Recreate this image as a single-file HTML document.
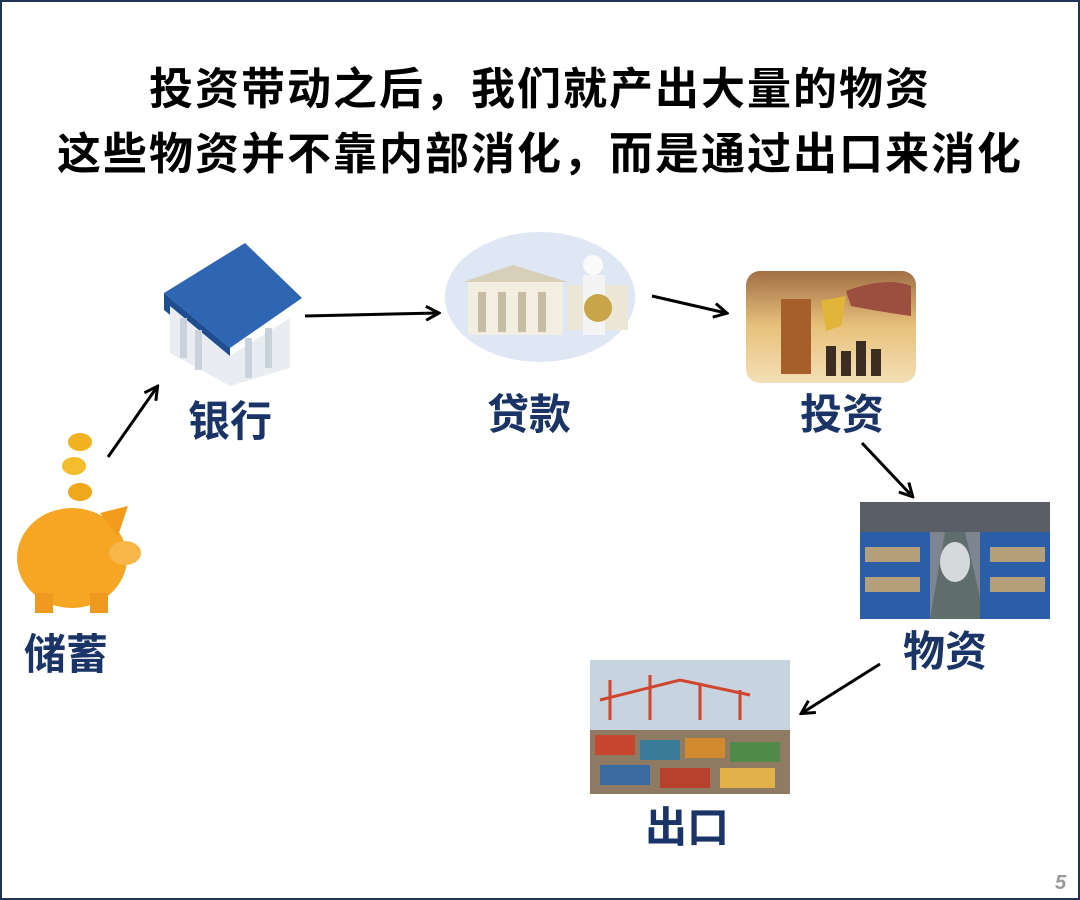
<!DOCTYPE html>
<html><head><meta charset="utf-8"><style>
html,body{margin:0;padding:0;}
body{width:1080px;height:900px;position:relative;background:#fff;overflow:hidden;font-family:"Liberation Sans","Noto Sans CJK SC",sans-serif;}
.frame{position:absolute;left:0;top:0;width:1076px;height:896px;border:2px solid #1f3557;}
.t{position:absolute;left:0;width:1080px;text-align:center;font-weight:bold;font-size:44px;color:#000;letter-spacing:2px;line-height:50px;}
.l{position:absolute;font-weight:bold;font-size:42px;color:#1a3468;line-height:44px;}
.img{position:absolute;}
</style></head><body>
<div class="frame"></div>
<div class="t" style="top:65px;">投资带动之后，我们就产出大量的物资</div>
<div class="t" style="top:130px;">这些物资并不靠内部消化，而是通过出口来消化</div>

<svg class="img" style="left:10px;top:428px" width="140" height="192">
<ellipse cx="70" cy="14" rx="12" ry="9" fill="#f2b11f"/>
<ellipse cx="64" cy="38" rx="12" ry="9" fill="#f4bd2e"/>
<ellipse cx="70" cy="64" rx="12" ry="9" fill="#f0a81a"/>
<ellipse cx="62" cy="130" rx="55" ry="50" fill="#f6a623"/>
<ellipse cx="115" cy="125" rx="16" ry="12" fill="#f8b54a"/>
<polygon points="90,85 118,78 108,108" fill="#f39b1c"/>
<rect x="25" y="165" width="18" height="20" fill="#ee9a20"/>
<rect x="80" y="165" width="18" height="20" fill="#ee9a20"/>
</svg>

<svg class="img" style="left:150px;top:238px" width="160" height="150">
<polygon points="14,55 95,5 152,60 80,110" fill="#2f66b3"/>
<polygon points="14,55 80,110 80,125 14,72" fill="#1e4d91"/>
<polygon points="20,68 80,118 140,80 140,130 80,148 20,115" fill="#e9edf2"/>
<g fill="#c9d1db"><rect x="30" y="80" width="7" height="40"/><rect x="45" y="92" width="7" height="40"/><rect x="95" y="100" width="7" height="40"/><rect x="115" y="90" width="7" height="40"/></g>
</svg>

<svg class="img" style="left:443px;top:230px" width="195" height="135">
<ellipse cx="97" cy="67" rx="95" ry="65" fill="#dfe6f4"/>
<rect x="25" y="50" width="95" height="55" fill="#f3eee2"/>
<polygon points="20,52 70,35 125,52" fill="#d8cfb9"/>
<g fill="#c7bda5"><rect x="35" y="62" width="8" height="40"/><rect x="55" y="62" width="8" height="40"/><rect x="75" y="62" width="8" height="40"/><rect x="95" y="62" width="8" height="40"/></g>
<rect x="125" y="55" width="60" height="45" fill="#ece6d6"/>
<circle cx="150" cy="35" r="10" fill="#fafafa"/>
<rect x="140" y="45" width="22" height="60" fill="#f4f4f4"/>
<ellipse cx="155" cy="78" rx="14" ry="14" fill="#c9a54a"/>
</svg>

<svg class="img" style="left:746px;top:271px" width="170" height="112">
<defs><linearGradient id="g1" x1="0" y1="0" x2="0" y2="1"><stop offset="0" stop-color="#a26f45"/><stop offset=".5" stop-color="#e8c27c"/><stop offset="1" stop-color="#f2dfb6"/></linearGradient></defs>
<rect width="170" height="112" rx="14" fill="url(#g1)"/>
<rect x="35" y="28" width="30" height="75" fill="#a65e2b"/>
<polygon points="75,30 100,25 95,55 80,60" fill="#e0b53a"/>
<path d="M100,20 Q140,5 165,15 L165,45 Q130,40 105,35Z" fill="#9c4e3f"/>
<g fill="#3d2c22"><rect x="80" y="75" width="10" height="30"/><rect x="95" y="80" width="10" height="25"/><rect x="110" y="70" width="10" height="35"/><rect x="125" y="78" width="10" height="27"/></g>
</svg>

<svg class="img" style="left:860px;top:502px" width="190" height="117">
<rect width="190" height="117" fill="#7d8590"/>
<rect width="190" height="30" fill="#5a5e66"/>
<polygon points="70,117 85,30 105,30 125,117" fill="#5f6e6c"/>
<ellipse cx="95" cy="60" rx="15" ry="20" fill="#d6d9dc"/>
<g fill="#2c5ea8"><rect x="0" y="30" width="70" height="87"/><rect x="120" y="30" width="70" height="87"/></g>
<g fill="#b59f7b"><rect x="5" y="45" width="55" height="15"/><rect x="5" y="75" width="55" height="15"/><rect x="130" y="45" width="55" height="15"/><rect x="130" y="75" width="55" height="15"/></g>
</svg>

<svg class="img" style="left:590px;top:660px" width="200" height="134">
<rect width="200" height="134" fill="#c7d3de"/>
<g stroke="#d0452e" stroke-width="3" fill="none"><path d="M10,40 L90,20 L160,35"/><path d="M20,60 L20,20 M60,60 L60,15 M110,60 L110,25 M150,60 L150,30"/></g>
<rect y="70" width="200" height="64" fill="#8f7a63"/>
<g><rect x="5" y="75" width="40" height="20" fill="#c8462e"/><rect x="50" y="80" width="40" height="20" fill="#3a7c98"/><rect x="95" y="78" width="40" height="20" fill="#d18b2e"/><rect x="140" y="82" width="50" height="20" fill="#4f8a4a"/><rect x="10" y="105" width="50" height="20" fill="#3a6aa0"/><rect x="70" y="108" width="50" height="20" fill="#b8402c"/><rect x="130" y="108" width="55" height="20" fill="#e3b14a"/></g>
</svg>

<div class="l" style="left:24px;top:633px;">储蓄</div>
<div class="l" style="left:188px;top:400px;">银行</div>
<div class="l" style="left:487px;top:393px;">贷款</div>
<div class="l" style="left:800px;top:393px;">投资</div>
<div class="l" style="left:903px;top:630px;">物资</div>
<div class="l" style="left:645px;top:806px;">出口</div>

<svg style="position:absolute;left:0;top:0" width="1080" height="900">
<defs><marker id="a" markerWidth="16" markerHeight="16" refX="13" refY="8" orient="auto" markerUnits="userSpaceOnUse"><path d="M1,1 L14,8 L1,15" fill="none" stroke="#000" stroke-width="3"/></marker></defs>
<g stroke="#000" stroke-width="3" marker-end="url(#a)">
<line x1="108" y1="457" x2="157" y2="387"/>
<line x1="305" y1="316" x2="438" y2="313"/>
<line x1="652" y1="296" x2="726" y2="313"/>
<line x1="862" y1="443" x2="912" y2="496"/>
<line x1="880" y1="664" x2="802" y2="713"/>
</g>
</svg>
<div style="position:absolute;left:1055px;top:872px;font-size:20px;font-style:italic;font-weight:bold;color:#999;">5</div>
</body></html>
